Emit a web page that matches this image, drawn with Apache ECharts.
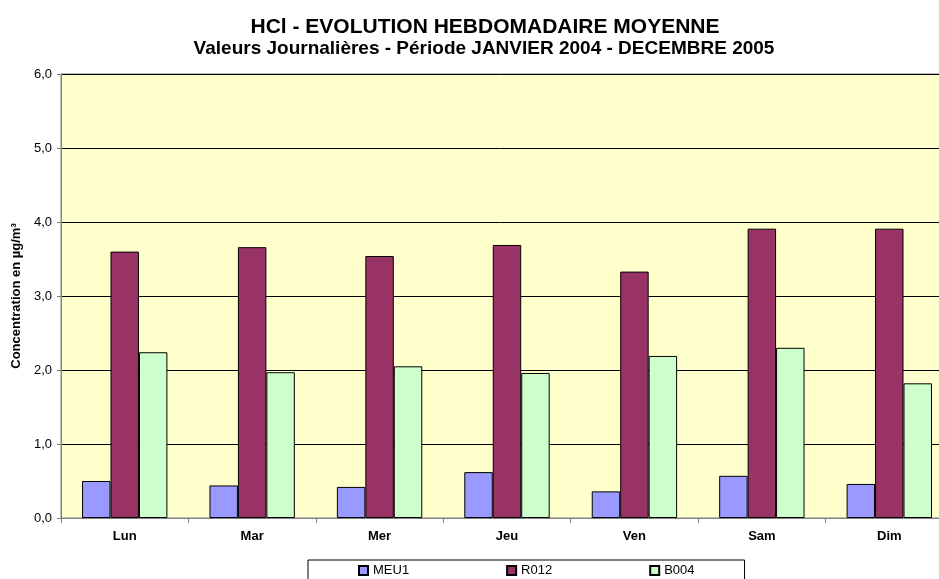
<!DOCTYPE html>
<head>
    <meta charset="UTF-8">
    <title>HCl - evolution hebdomadaire</title>
</head>
<body style="margin:0">
<div id="main" style="width:939px;height:579px"></div>
<script src="https://cdn.jsdelivr.net/npm/echarts@6/dist/echarts.min.js"></script>
<script type="text/javascript">
    var days = ['Lun', 'Mar', 'Mer', 'Jeu', 'Ven', 'Sam', 'Dim'];
    var meu1 = [0.50, 0.44, 0.42, 0.62, 0.36, 0.57, 0.46];
    var r012 = [3.60, 3.66, 3.54, 3.69, 3.33, 3.91, 3.91];
    var b004 = [2.24, 1.97, 2.05, 1.96, 2.19, 2.30, 1.82];
    var seriesNames = ['MEU1', 'R012', 'B004'];
    var seriesColors = ['#9999ff', '#993366', '#ccffcc'];

    var font = 'Arial, "Liberation Sans", sans-serif';

    function makeSeries(i, data) {
        return {
            name: seriesNames[i],
            type: 'bar',
            data: data,
            barGap: '0%',
            barCategoryGap: '33%',
            itemStyle: {
                color: seriesColors[i],
                borderColor: '#000',
                borderWidth: 1
            }
        };
    }

    var option = {
        animation: false,
        title: [{
            text: 'HCl - EVOLUTION HEBDOMADAIRE MOYENNE',
            left: 480,
            top: 12,
            textAlign: 'center',
            textStyle: {fontFamily: font, fontSize: 21, fontWeight: 'bold', color: '#000'}
        }, {
            text: 'Valeurs Journalières - Période JANVIER 2004 - DECEMBRE 2005',
            left: 479,
            top: 34,
            textAlign: 'center',
            textStyle: {fontFamily: font, fontSize: 19, fontWeight: 'bold', color: '#000'}
        }],
        legend: {
            data: seriesNames,
            left: 308,
            top: 560,
            padding: [4, 50, 6, 50],
            itemGap: 97,
            itemWidth: 9,
            itemHeight: 9,
            icon: 'rect',
            borderColor: '#000',
            borderWidth: 1,
            textStyle: {fontFamily: font, fontSize: 13, color: '#000'}
        },
        grid: {
            left: 61,
            width: 892,
            top: 74,
            bottom: 61,
            outerBoundsMode: 'none',
            show: true,
            backgroundColor: '#ffffcc',
            borderColor: '#808080',
            borderWidth: 1
        },
        xAxis: {
            type: 'category',
            data: days,
            axisLine: {lineStyle: {color: '#808080'}},
            axisTick: {show: true, length: 5, lineStyle: {color: '#808080'}},
            axisLabel: {fontFamily: font, fontSize: 13, fontWeight: 'bold', color: '#000', margin: 12}
        },
        yAxis: {
            type: 'value',
            min: 0,
            max: 6,
            interval: 1,
            name: 'Concentration en µg/m³',
            nameLocation: 'middle',
            nameGap: 34,
            nameTextStyle: {fontFamily: font, fontSize: 13, fontWeight: 'bold', color: '#000'},
            axisLine: {show: true, lineStyle: {color: '#808080'}},
            axisTick: {show: true, length: 4, lineStyle: {color: '#808080'}},
            axisLabel: {
                fontFamily: font, fontSize: 13, color: '#000', margin: 9,
                formatter: function (v) { return v.toFixed(1).replace('.', ','); }
            },
            splitLine: {lineStyle: {color: '#000', width: 1}}
        },
        series: [
            makeSeries(0, meu1),
            makeSeries(1, r012),
            makeSeries(2, b004)
        ]
    };

    var myChart = echarts.init(document.getElementById('main'));
    myChart.setOption(option);
</script>
</body>
